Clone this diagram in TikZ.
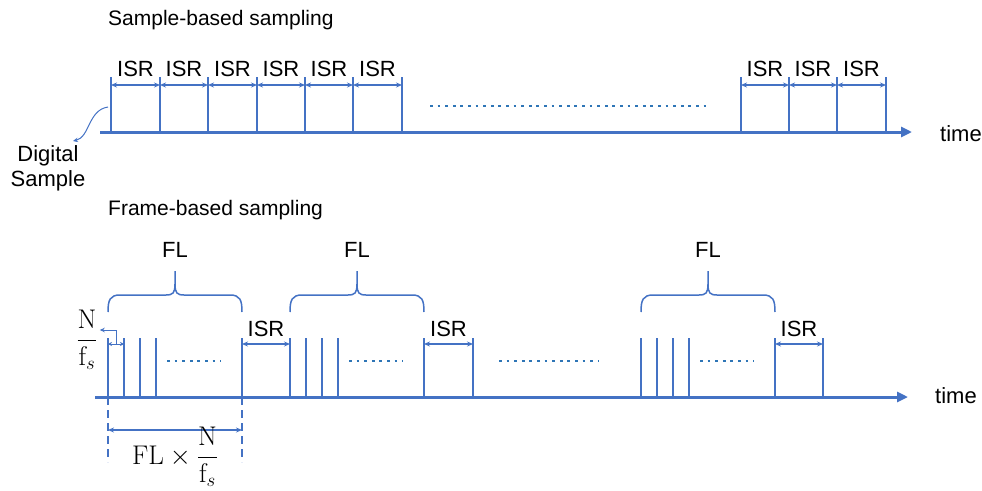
\RequirePackage{fix-cm}
\documentclass[tikz,border=0pt]{standalone}
\usepackage[no-math]{fontspec}
\setmainfont{Liberation Sans}
\usetikzlibrary{arrows.meta,calc}

\definecolor{lineblue}{HTML}{4472C4}
\definecolor{dotblue}{HTML}{2E75B6}

\tikzset{
	axis/.style={lineblue,line width=3pt,-{Triangle[length=11pt,width=10pt]}},
	sample/.style={lineblue,line width=2pt},
	gap/.style={lineblue,line width=1.2pt,{Stealth[length=6pt,width=5pt]}-{Stealth[length=6pt,width=5pt]}},
	smallgap/.style={lineblue,line width=1pt,{Stealth[length=4pt,width=4pt]}-{Stealth[length=4pt,width=4pt]}},
	pointer/.style={lineblue,line width=1pt,-{Stealth[length=5pt,width=4.5pt]}},
	dots/.style={dotblue,line width=2.8pt,dash pattern=on 2.8pt off 4.8pt},
	fbrace/.style={lineblue,line width=1.5pt},
	lbl/.style={font=\fontsize{22}{25}\selectfont,inner sep=0pt},
	mathlbl/.style={font=\fontsize{27}{30}\selectfont,inner sep=0pt},
}

\begin{document}
\begin{tikzpicture}[x=1pt,y=-1pt]
\useasboundingbox (0,0) rectangle (982,490);

%% sample-based
\node[lbl,font=\fontsize{21}{25}\selectfont,anchor=base west] (title1) at (108,25) {Sample-based sampling};
\draw[axis] (100,132) -- (912,132);
\node[lbl,anchor=base west] (time1) at (940,141) {time};

\foreach \x [count=\i] in {111,160,208,257,305,353,402,741,789,837,886}
	\draw[sample] (\x,132) -- (\x,77) coordinate (s\i);

\foreach \a/\b in {1/2,2/3,3/4,4/5,5/6,6/7,8/9,9/10,10/11}{
	\draw[gap] ($(s\a)+(0,8)$) -- ($(s\b)+(0,8)$);
	\node[lbl,anchor=base] (isr\a) at ($(s\a)!0.5!(s\b)+(0,-1)$) {ISR};
}

\draw[dots] (430,106) -- (706,106);

\node[lbl,align=center] (dsample) at (48,168) {Digital\\Sample};
\draw[pointer] ($(s1)+(-3,30)$) .. controls (88,110) and (90,137) .. ($(dsample.north)+(25,-4)$);

%% frame-based
\node[lbl,font=\fontsize{21}{25}\selectfont,anchor=base west] (title2) at (108,215) {Frame-based sampling};
\draw[axis] (95,397) -- (908,397);
\node[lbl,anchor=base west] (time2) at (935,403) {time};

\foreach \s/\e/\r [count=\i] in {108/242/290,290/424/473,641/775/823}{
	% samples of one frame
	\foreach \k in {0,16,32,48}
		\draw[sample] (\s+\k,397) -- (\s+\k,338);
	\coordinate (fs\i) at (\s,338);
	\draw[sample] (\e,397) -- (\e,338) coordinate (fe\i);
	\draw[sample] (\r,397) -- (\r,338) coordinate (ir\i);
	\draw[dots] (\s+59,361) -- (\s+113,361);
	% gap to the next frame
	\draw[gap] ($(fe\i)+(0,6)$) -- ($(ir\i)+(0,6)$);
	\node[lbl,anchor=base] (isrf\i) at ($(fe\i)!0.5!(ir\i)+(0,-2)$) {ISR};
	% brace over the frame
	\pgfmathsetmacro{\m}{(\s+\e)/2}
	\draw[fbrace] (\s,312) .. controls (\s,300) and (\s+2,295) .. (\s+12,295)
		-- (\m-9,295) .. controls (\m-2,295) and (\m,293) .. (\m,284) -- (\m,271)
		-- (\m,284) .. controls (\m,293) and (\m+2,295) .. (\m+9,295)
		-- (\e-12,295) .. controls (\e-2,295) and (\e,300) .. (\e,312);
	\node[lbl,anchor=base] (fl\i) at (\m,257) {FL};
}

\draw[dots] (499,361) -- (598,361);

% one sample period
\coordinate (p0) at (108,344);
\coordinate (p1) at (124,344);
\draw[smallgap] (p0) -- (p1);
\node[mathlbl] (nfs) at (87,340) {$\displaystyle\frac{\mathrm{N}}{\mathrm{f}_s}$};
\draw[pointer] ($(p0)!0.5!(p1)$) |- ($(nfs.east)+(2,-10)$);

% length of one frame
\draw[lineblue,line width=1.2pt,dash pattern=on 8pt off 5pt] (fs1 |- 0,397) -- (fs1 |- 0,462) coordinate (d0);
\draw[lineblue,line width=1.2pt,dash pattern=on 8pt off 5pt] (fe1 |- 0,397) -- (fe1 |- 0,462) coordinate (d1);
\draw[gap] (fs1 |- 0,430) -- (fe1 |- 0,430);
\node[mathlbl] (frametime) at (175,457) {$\displaystyle\mathrm{FL}\times\frac{\mathrm{N}}{\mathrm{f}_s}$};

\end{tikzpicture}
\end{document}
